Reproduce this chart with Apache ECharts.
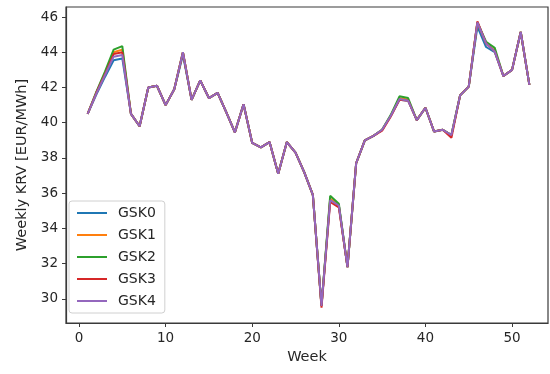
<!DOCTYPE html>
<html>
<head>
<meta charset="utf-8">
<style>
  html, body { margin: 0; padding: 0; background: #ffffff; }
  #chart { width: 550px; height: 374px; }
</style>
<script src="https://cdn.jsdelivr.net/npm/echarts@6/dist/echarts.min.js"></script>
</head>
<body>
<div id="chart"></div>
<script>
const weeks = [1,2,3,4,5,6,7,8,9,10,11,12,13,14,15,16,17,18,19,20,21,22,23,24,25,26,
  27,28,29,30,31,32,33,34,35,36,37,38,39,40,41,42,43,44,45,46,47,48,49,50,51,52];

const seriesNames = ['GSK0', 'GSK1', 'GSK2', 'GSK3', 'GSK4'];
const seriesColors = ['#1f77b4', '#ff7f0e', '#2ca02c', '#d62728', '#9467bd'];

const gsk0 = [40.5,41.6,42.6,43.55,43.65,40.5,39.8,42.0,42.1,41.0,41.9,43.85,41.3,42.4,41.4,41.7,40.6,39.45,41.05,38.85,38.6,38.9,37.1,38.9,38.3,37.2,
  35.9,29.6,35.65,35.3,31.8,37.7,39.0,39.25,39.6,40.4,41.3,41.25,40.15,40.85,39.5,39.6,39.3,41.55,42.05,45.45,44.3,44.0,42.65,43.0,45.15,42.15];
const gsk1 = [40.5,41.7,42.8,44.0,44.15,40.5,39.8,42.0,42.1,41.0,41.9,44.0,41.3,42.4,41.4,41.7,40.6,39.45,41.05,38.85,38.6,38.9,37.1,38.9,38.3,37.2,
  35.9,29.6,35.7,35.3,31.8,37.7,39.0,39.25,39.6,40.4,41.4,41.3,40.15,40.85,39.5,39.6,39.3,41.55,42.05,45.7,44.5,44.1,42.65,43.0,45.15,42.15];
const gsk2 = [40.5,41.75,42.9,44.15,44.35,40.5,39.8,42.0,42.1,41.0,41.9,44.0,41.3,42.4,41.4,41.7,40.6,39.45,41.05,38.85,38.6,38.9,37.1,38.9,38.3,37.2,
  35.9,29.6,35.85,35.4,31.8,37.7,39.0,39.25,39.6,40.45,41.5,41.4,40.15,40.85,39.5,39.6,39.3,41.55,42.05,45.7,44.6,44.25,42.65,43.0,45.15,42.15];
const gsk3 = [40.5,41.7,42.75,43.9,44.0,40.5,39.8,42.0,42.1,41.0,41.9,44.0,41.3,42.4,41.4,41.7,40.6,39.45,41.05,38.85,38.6,38.9,37.1,38.9,38.3,37.2,
  35.9,29.5,35.5,35.2,31.8,37.7,39.0,39.25,39.55,40.35,41.3,41.25,40.15,40.85,39.5,39.6,39.15,41.55,42.05,45.75,44.5,44.05,42.65,43.0,45.15,42.15];
const gsk4 = [40.5,41.65,42.7,43.75,43.85,40.5,39.8,42.0,42.1,41.0,41.9,44.0,41.3,42.4,41.4,41.7,40.6,39.45,41.05,38.85,38.6,38.9,37.1,38.9,38.3,37.2,
  35.9,29.6,35.6,35.3,31.8,37.7,39.0,39.25,39.6,40.4,41.35,41.25,40.15,40.85,39.5,39.6,39.3,41.55,42.05,45.7,44.5,44.05,42.65,43.0,45.15,42.15];

const xTicks = [0, 10, 20, 30, 40, 50];
const yTicks = [30, 32, 34, 36, 38, 40, 42, 44, 46];

const allSeries = [gsk0, gsk1, gsk2, gsk3, gsk4];

const textColor = '#262626';
const spineColor = '#3a3a3a';
const fontFamily = 'DejaVu Sans';
const fs = 13.5;
const nameFs = 14.5;

const chart = echarts.init(document.getElementById('chart'), null, { renderer: 'canvas' });

const option = {
  animation: false,
  backgroundColor: '#ffffff',
  grid: {
    left: 66, top: 7, right: 2, bottom: 51,
    show: true, borderColor: spineColor, borderWidth: 1.2, backgroundColor: 'transparent'
  },
  legend: {
    orient: 'vertical',
    left: 69,
    top: 201,
    padding: [5, 9, 5, 8],
    itemWidth: 30,
    itemHeight: 14,
    itemGap: 8,
    icon: 'path://M0,0M0,6L30,6L30,8L0,8ZM30,14',
    itemStyle: { borderWidth: 0 },
    backgroundColor: 'rgba(255,255,255,0.8)',
    borderColor: '#d0d0d0',
    borderWidth: 1,
    borderRadius: 3,
    textStyle: { fontFamily: fontFamily, fontSize: 14, color: textColor, padding: [0, 0, 0, 6] },
    data: seriesNames
  },
  xAxis: {
    type: 'value',
    min: -1.5,
    max: 54.15,
    name: 'Week',
    nameLocation: 'middle',
    nameGap: 27,
    nameTextStyle: { fontFamily: fontFamily, fontSize: nameFs, color: textColor },
    axisLine: { show: true, onZero: false, lineStyle: { color: spineColor, width: 1.2 } },
    axisTick: { show: true, inside: false, length: 4, customValues: xTicks, lineStyle: { color: spineColor, width: 1 } },
    axisLabel: { customValues: xTicks, margin: 8, fontFamily: fontFamily, fontSize: fs, color: textColor },
    splitLine: { show: false }
  },
  yAxis: {
    type: 'value',
    min: 28.63,
    max: 46.57,
    name: 'Weekly KRV [EUR/MWh]',
    nameLocation: 'middle',
    nameGap: 34,
    nameTextStyle: { fontFamily: fontFamily, fontSize: nameFs, color: textColor },
    axisLine: { show: true, onZero: false, lineStyle: { color: spineColor, width: 1.2 } },
    axisTick: { show: true, inside: false, length: 4, customValues: yTicks, lineStyle: { color: spineColor, width: 1 } },
    axisLabel: { customValues: yTicks, margin: 8, fontFamily: fontFamily, fontSize: fs, color: textColor },
    splitLine: { show: false }
  },
  series: seriesNames.map((name, i) => ({
    name: name,
    type: 'line',
    symbol: 'none',
    color: seriesColors[i],
    lineStyle: { width: 2, color: seriesColors[i] },
    data: weeks.map((w, k) => [w, allSeries[i][k]]),
    z: 2 + i
  }))
};

chart.setOption(option);
</script>
</body>
</html>
